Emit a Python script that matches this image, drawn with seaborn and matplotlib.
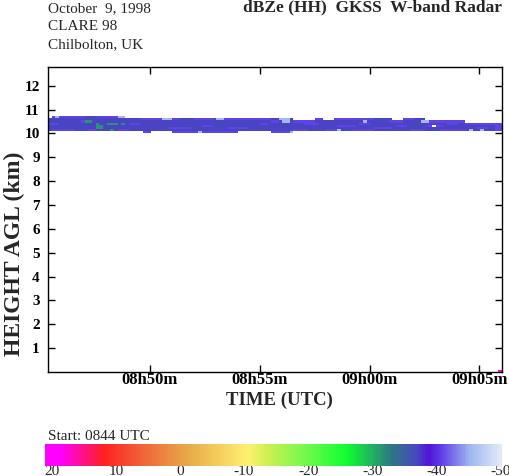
import numpy as np
import pandas as pd
import seaborn as sns
import matplotlib.pyplot as plt
from matplotlib.colors import LinearSegmentedColormap

# time in minutes after 08:00 UTC, height in km
t_start = 45.36
dt = 1 / 6            # 10 s profiles
n_prof = 124
n_gate = 142
dz = 12.8 / n_gate    # range gate

x_tick_min = [50, 55, 60, 65]
x_tick_lab = ["08h50m", "08h55m", "09h00m", "09h05m"]
y_tick_km = list(range(1, 13))

# cirrus layer envelope (t0, t1, bottom, top), base reflectivity
band_base = -37
band_env = [
    (45.36, 45.53, 10.10, 10.64),
    (45.53, 48.80, 10.10, 10.73),
    (48.80, 55.45, 10.10, 10.64),
    (49.70, 50.00, 10.00, 10.10),
    (51.10, 54.10, 10.00, 10.10),
    (55.45, 56.60, 10.00, 10.10),
    (55.45, 64.40, 10.10, 10.55),
    (55.45, 56.60, 10.55, 10.64),
    (57.60, 57.90, 10.55, 10.64),
    (58.40, 61.00, 10.55, 10.64),
    (61.50, 62.60, 10.55, 10.64),
    (64.40, 66.05, 10.10, 10.46),
]

purple_val = -41
purple = [
    (45.53, 46.97, 10.64, 10.73), (47.50, 48.80, 10.64, 10.73),
    (49.55, 50.60, 10.55, 10.64), (51.00, 51.40, 10.55, 10.64),
    (52.00, 52.90, 10.55, 10.64), (53.40, 55.45, 10.55, 10.64),
    (55.45, 55.90, 10.46, 10.55), (56.60, 57.60, 10.46, 10.55),
    (57.60, 57.90, 10.55, 10.64), (58.40, 60.15, 10.55, 10.64),
    (60.80, 61.60, 10.46, 10.55), (61.50, 62.10, 10.55, 10.64),
    (62.60, 64.40, 10.46, 10.55), (64.40, 65.70, 10.37, 10.46),
    (65.70, 66.05, 10.10, 10.46),
    (45.53, 46.50, 10.10, 10.19), (47.20, 47.50, 10.10, 10.19),
    (48.60, 49.00, 10.10, 10.19), (49.70, 50.00, 10.00, 10.10),
    (51.10, 54.10, 10.00, 10.10), (55.45, 56.60, 10.00, 10.10),
    (56.60, 57.20, 10.10, 10.19), (58.10, 58.70, 10.10, 10.19),
    (59.20, 60.20, 10.10, 10.19), (61.80, 62.50, 10.10, 10.19),
    (63.20, 64.40, 10.10, 10.19),
    (46.90, 47.20, 10.46, 10.55), (50.80, 51.80, 10.19, 10.28),
    (53.50, 54.60, 10.19, 10.28), (57.10, 57.70, 10.37, 10.46),
    (58.50, 59.40, 10.28, 10.37), (60.20, 61.00, 10.19, 10.28),
    (62.60, 63.40, 10.28, 10.37), (45.36, 45.90, 10.37, 10.46),
    (49.00, 49.60, 10.37, 10.46), (52.30, 52.80, 10.28, 10.37),
    (55.00, 55.40, 10.37, 10.46), (59.60, 60.00, 10.37, 10.46),
    (61.20, 61.70, 10.28, 10.37), (63.60, 64.10, 10.37, 10.46),
    (64.90, 65.40, 10.19, 10.28),
]

light_val = -45.5
light = [
    (45.70, 45.90, 10.64, 10.73), (48.50, 48.80, 10.64, 10.73),
    (50.60, 51.00, 10.55, 10.64), (53.10, 53.40, 10.55, 10.64),
    (55.90, 56.40, 10.55, 10.64), (56.10, 56.40, 10.46, 10.55),
    (52.20, 52.40, 10.00, 10.10), (56.40, 56.60, 10.00, 10.10),
    (58.50, 58.70, 10.10, 10.19), (59.70, 59.90, 10.46, 10.55),
    (62.40, 62.75, 10.46, 10.55), (64.60, 64.75, 10.10, 10.19),
    (65.10, 65.25, 10.10, 10.19),
]

green_val = -31.5
green = [
    (46.97, 47.36, 10.46, 10.55), (47.50, 47.70, 10.37, 10.46),
    (47.50, 47.88, 10.19, 10.37), (48.00, 48.50, 10.37, 10.46),
    (48.67, 48.82, 10.37, 10.46), (48.18, 48.32, 10.10, 10.19),
]

gaps = [(62.90, 63.05, 10.28, 10.37)]
spike_val = 19
spike = [(65.86, 66.05, 0.0, 0.09)]

# colour table (dBZe, colour)
cmap_vals = [-50.3, -45.5, -41, -39, -37, -33, -26, -18.7, -14, -10.5, -1, 6.3, 12, 18.8, 21.1]
cmap_cols = ["#e2eafa", "#a0b8f0", "#6040e8", "#5014d8", "#4848c0", "#2e7884", "#10ff30",
             "#80f850", "#c8f050", "#fff070", "#e8a848", "#f06038", "#ff2020", "#ff00ff", "#ff00ff"]
cbar_ticks = [20, 10, 0, -10, -20, -30, -40, -50]


def main():
    vmin, vmax = cmap_vals[0], cmap_vals[-1]
    nodes = [((v - vmin) / (vmax - vmin), c) for v, c in zip(cmap_vals, cmap_cols)]
    cmap = LinearSegmentedColormap.from_list("wband", nodes)

    tc = t_start + (np.arange(n_prof) + 0.5) * dt
    zc = (np.arange(n_gate) + 0.5) * dz
    T, Z = np.meshgrid(tc, zc)
    dbz = np.full((n_gate, n_prof), np.nan)

    def paint(boxes, val):
        for t0, t1, h0, h1 in boxes:
            dbz[(T >= t0) & (T < t1) & (Z >= h0) & (Z < h1)] = val

    paint(band_env, band_base)
    paint(purple, purple_val)
    paint(light, light_val)
    paint(green, green_val)
    paint(gaps, np.nan)
    paint(spike, spike_val)

    sns.set_style("ticks")
    plt.rcParams["font.family"] = ["Liberation Serif", "DejaVu Serif"]
    plt.rcParams["axes.unicode_minus"] = False

    W, H = 509, 476
    fig = plt.figure(figsize=(W / 100, H / 100), dpi=100)
    ax = fig.add_axes([48 / W, 1 - 372 / H, 454 / W, 305.3 / H])
    cax = fig.add_axes([45 / W, 1 - 466 / H, 457 / W, 22 / H])

    sns.heatmap(pd.DataFrame(dbz), ax=ax, cmap=cmap, vmin=vmin, vmax=vmax,
                cbar_ax=cax, cbar_kws={"orientation": "horizontal"},
                xticklabels=False, yticklabels=False)

    ax.set_xlim(0, n_prof)
    ax.set_ylim(0, n_gate)
    for sp in ax.spines.values():
        sp.set_visible(True)
        sp.set_color("black")
        sp.set_linewidth(1.0)

    ax.set_xticks([(t - t_start) / dt for t in x_tick_min])
    ax.set_xticklabels(x_tick_lab, fontsize=12, fontweight="bold", rotation=0)
    ax.set_yticks([h / dz for h in y_tick_km])
    ax.set_yticklabels([str(h) for h in y_tick_km], fontsize=11, fontweight="bold", rotation=0)
    ax.tick_params(axis="x", direction="in", length=5, width=1, top=True, pad=0, colors="black")
    ax.tick_params(axis="y", direction="in", length=5, width=1, right=True, pad=6, colors="black")
    ax.set_xlabel("")
    ax.set_ylabel("")

    cbar = ax.collections[0].colorbar
    cbar.outline.set_visible(False)
    cax.invert_xaxis()
    cbar.set_ticks(cbar_ticks)
    cbar.set_ticklabels([str(v) for v in cbar_ticks])
    cax.tick_params(length=0, pad=-1, labelsize=11)

    def px(x, y):
        return x / W, 1 - y / H

    fig.text(*px(48, 11.7), "October  9, 1998", fontsize=11, va="baseline")
    fig.text(*px(48, 30), "CLARE 98", fontsize=11, va="baseline")
    fig.text(*px(48, 48.3), "Chilbolton, UK", fontsize=11, va="baseline")
    fig.text(*px(502, 11.7), "dBZe (HH)  GKSS  W-band Radar", fontsize=12.5,
             fontweight="bold", ha="right", va="baseline")
    fig.text(*px(279, 405), "TIME (UTC)", fontsize=13.5, fontweight="bold",
             ha="center", va="baseline")
    fig.text(*px(14, 254), "HEIGHT AGL (km)", fontsize=17, fontweight="bold",
             rotation=90, ha="center", va="center")
    fig.text(*px(48, 439.5), "Start: 0844 UTC", fontsize=11, va="baseline")

    fig.savefig("out.png", dpi=100)


if __name__ == "__main__":
    main()
